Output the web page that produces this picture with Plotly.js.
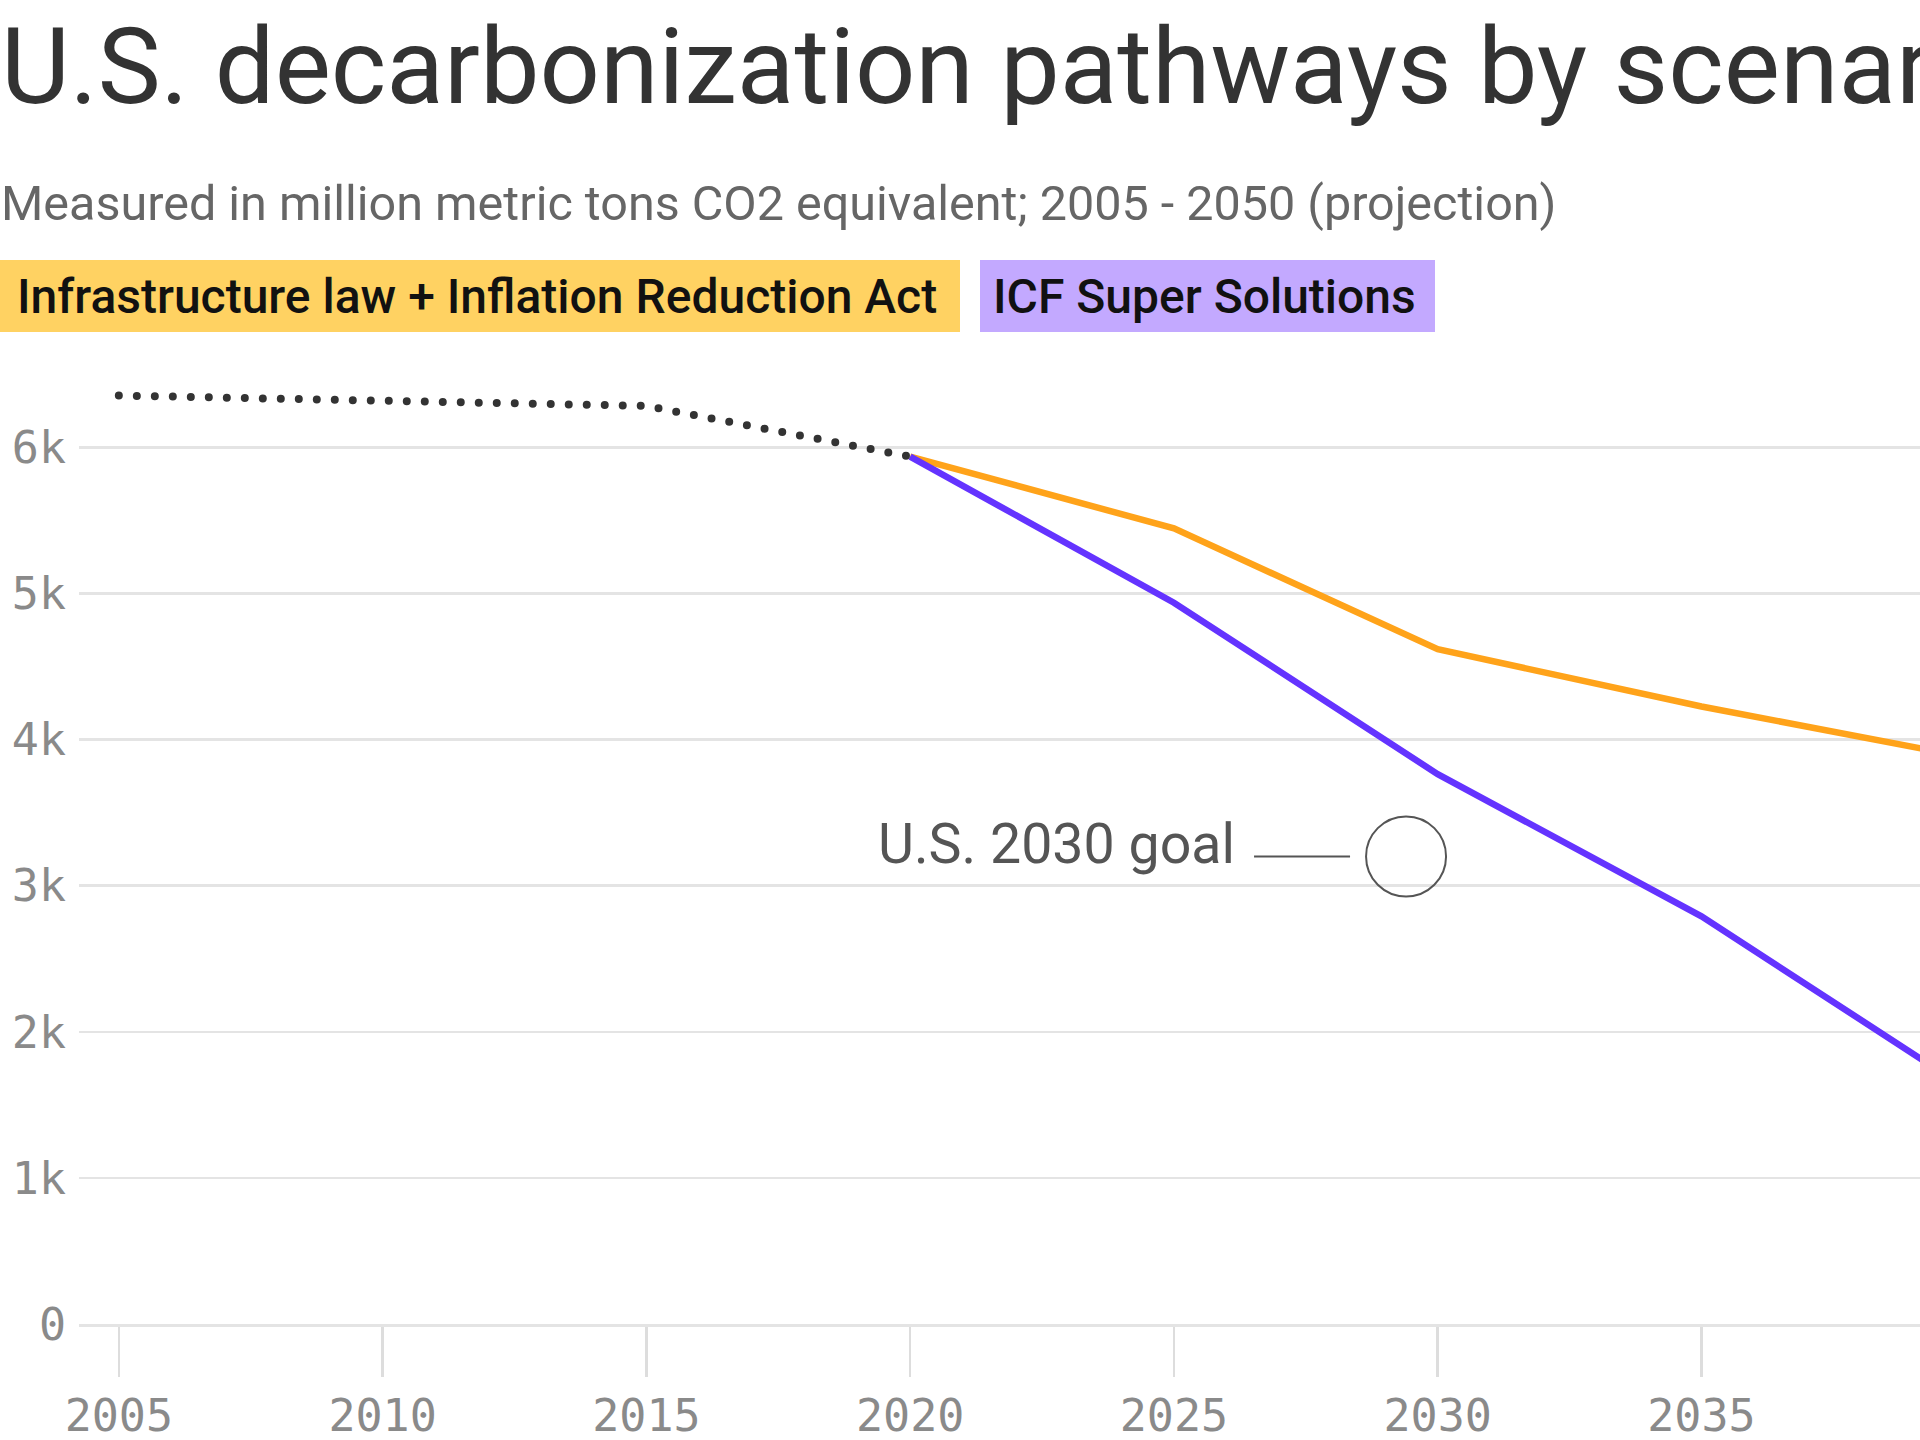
<!DOCTYPE html>
<html>
<head>
<meta charset="utf-8">
<script src="https://cdn.plot.ly/plotly-3.0.1.min.js"></script>
<style>
  html, body { margin: 0; padding: 0; background: #ffffff; overflow: hidden; }
  #wrap { width: 1920px; height: 1440px; overflow: hidden; position: relative; }
  #chart { width: 2018px; height: 1440px; }
  .scatterlayer .trace:last-child path.js-line { stroke-linecap: round; }
</style>
</head>
<body>
<div id="wrap"><div id="chart"></div></div>
<script>
// ---- data ----
const histYears = [2005, 2010, 2015, 2020];
const histValues = [6354, 6318, 6283, 5936];
const scenarioYears = [2020, 2025, 2030, 2035, 2040];
const iraValues = [5936, 5445, 4618, 4226, 3881];
const icfValues = [5936, 4936, 3763, 2790, 1617];
const goalYear = [2029.4];
const goalValue = [3200];
const xTickVals = [2005, 2010, 2015, 2020, 2025, 2030, 2035, 2040];
const xTickText = ['2005', '2010', '2015', '2020', '2025', '2030', '2035', '2040'];
const yTickVals = [0, 1000, 2000, 3000, 4000, 5000, 6000];
const yTickText = ['0', '1k', '2k', '3k', '4k', '5k', '6k'];
const titleText = 'U.S. decarbonization pathways by scenario';
const subtitleText = 'Measured in million metric tons CO2 equivalent; 2005 - 2050 (projection)';
const legendLabels = ['Infrastructure law + Inflation Reduction Act', 'ICF Super Solutions'];
const goalLabel = 'U.S. 2030 goal';

// ---- layout geometry ----
const W = 2018, H = 1440, L = 79, R = 0, T = 345, B = 116;
const plotW = W - L - R, plotH = H - T - B;
const px = x => (x - L) / plotW;
const py = y => (H - B - y) / plotH;

const tickFont = { family: 'DejaVu Sans Mono', size: 45, color: '#8a8a8a' };

const traces = [
  { x: scenarioYears, y: iraValues, mode: 'lines', name: legendLabels[0],
    line: { color: '#FFA31A', width: 6.5 }, hoverinfo: 'skip' },
  { x: scenarioYears, y: icfValues, mode: 'lines', name: legendLabels[1],
    line: { color: '#6433FF', width: 6.5 }, hoverinfo: 'skip' },
  { x: goalYear, y: goalValue, mode: 'markers', name: goalLabel,
    marker: { symbol: 'circle-open', size: 80, color: '#555555', line: { width: 2, color: '#555555' } },
    hoverinfo: 'skip' },
  { x: histYears, y: histValues, mode: 'lines', name: 'Historical',
    line: { color: '#333333', width: 8, dash: '0px,18px' }, hoverinfo: 'skip' }
];

const layout = {
  width: W, height: H, autosize: false,
  margin: { l: L, r: R, t: T, b: B, pad: 0 },
  paper_bgcolor: '#ffffff', plot_bgcolor: '#ffffff',
  showlegend: false,
  font: { family: 'Roboto', color: '#333333' },
  xaxis: {
    range: [2004.245, 2041], tickvals: xTickVals, ticktext: xTickText,
    showgrid: false, zeroline: false,
    showline: true, linecolor: '#e4e4e4', linewidth: 2.5,
    ticks: 'outside', ticklen: 50, tickwidth: 2.5, tickcolor: '#dddddd',
    tickfont: tickFont, fixedrange: true
  },
  yaxis: {
    range: [0, 6700], tickvals: yTickVals, ticktext: yTickText,
    showgrid: true, gridcolor: '#e4e4e4', gridwidth: 2.5,
    zeroline: false, showline: false, ticks: '',
    ticklabelstandoff: 12,
    tickfont: tickFont, fixedrange: true
  },
  shapes: [
    { type: 'rect', xref: 'paper', yref: 'paper', x0: px(0), x1: px(960), y0: py(332), y1: py(260),
      fillcolor: '#FFD262', line: { width: 0 }, layer: 'below' },
    { type: 'rect', xref: 'paper', yref: 'paper', x0: px(980), x1: px(1435), y0: py(332), y1: py(260),
      fillcolor: '#C3A9FF', line: { width: 0 }, layer: 'below' },
    { type: 'line', xref: 'x', yref: 'y', xsizemode: 'pixel', ysizemode: 'pixel',
      xanchor: goalYear[0], yanchor: goalValue[0], x0: -152, x1: -56, y0: 0, y1: 0,
      line: { color: '#555555', width: 2 } }
  ],
  annotations: [
    { xref: 'paper', yref: 'paper', x: px(0), y: py(67), xanchor: 'left', yanchor: 'middle',
      text: titleText, showarrow: false, borderpad: 0,
      font: { family: 'Roboto', size: 106, color: '#333333' } },
    { xref: 'paper', yref: 'paper', x: px(0), y: py(204), xanchor: 'left', yanchor: 'middle',
      text: subtitleText, showarrow: false, borderpad: 0,
      font: { family: 'Roboto', size: 48.5, color: '#666666' } },
    { xref: 'paper', yref: 'paper', x: px(16), y: py(296), xanchor: 'left', yanchor: 'middle',
      text: legendLabels[0], showarrow: false, borderpad: 0,
      font: { family: 'Roboto', size: 48, weight: 500, color: '#111111' } },
    { xref: 'paper', yref: 'paper', x: px(992), y: py(296), xanchor: 'left', yanchor: 'middle',
      text: legendLabels[1], showarrow: false, borderpad: 0,
      font: { family: 'Roboto', size: 48, weight: 500, color: '#111111' } },
    { xref: 'x', yref: 'y', x: goalYear[0], y: goalValue[0], xanchor: 'right', yanchor: 'middle',
      xshift: -170, yshift: 12, text: goalLabel, showarrow: false, borderpad: 0,
      font: { family: 'Roboto', size: 55.5, color: '#555555' } }
  ]
};

Plotly.newPlot('chart', traces, layout, { displayModeBar: false, staticPlot: true });
</script>
</body>
</html>
